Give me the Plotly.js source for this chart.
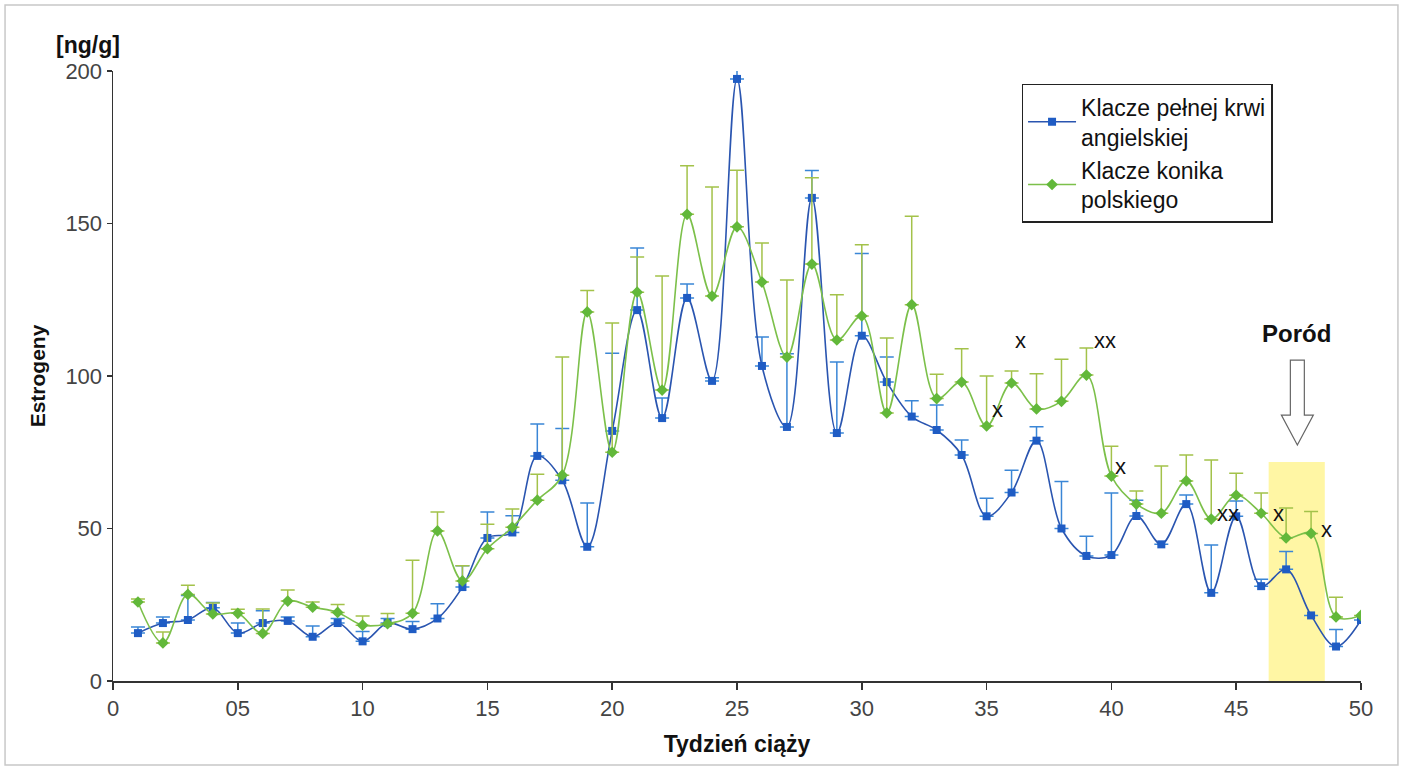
<!DOCTYPE html>
<html>
<head>
<meta charset="utf-8">
<script src="https://cdn.plot.ly/plotly-3.0.1.min.js"></script>
<style>
  html, body { margin: 0; padding: 0; background: #fff; }
  #chart { width: 1406px; height: 770px; }
</style>
</head>
<body>
<div id="chart"></div>
<script>
const weeks = Array.from({length: 50}, (_, i) => i + 1);

const seriesNames = ['Klacze pełnej krwi<br>angielskiej', 'Klacze konika<br>polskiego'];

const blueValues = [15.7, 19, 20, 24, 15.7, 19, 19.7, 14.5, 19, 13, 19, 17, 20.5, 30.8, 46.9, 48.7, 73.8, 65.8, 44, 82,
  121.6, 86.2, 125.6, 98.4, 197.4, 103.3, 83.3, 158.4, 81.3, 113.2, 98, 86.7, 82.3, 74.1, 54, 61.8, 78.8, 50, 41, 41.3,
  54.1, 44.8, 58, 28.9, 54, 31.1, 36.6, 21.5, 11.3, 20];
const blueErr = [2, 2, 8, 1.7, 3.3, 4, 1.3, 3.5, 1.5, 3.2, 1.5, 2.5, 4.8, 7, 8.5, 5.5, 10.5, 17, 14.4, 25.5,
  20.4, 6.6, 4.6, 1, 4.6, 9.5, 24, 9, 23.3, 27, 8.2, 5.2, 8.2, 4.9, 5.9, 7.3, 4.6, 15.4, 6.5, 20.3,
  5.2, 0, 3, 15.7, 5, 2.3, 5.9, 0, 5.6, 0];

const greenValues = [25.9, 12.5, 28.4, 22, 22.2, 15.6, 26.2, 24.2, 22.5, 18.3, 18.8, 22.2, 49.2, 32.8, 43.4, 50.4, 59.3, 67.5, 121, 75,
  127.5, 95.4, 153, 126.2, 148.9, 130.8, 106.2, 136.7, 111.8, 119.7, 87.9, 123.4, 92.6, 98, 83.6, 97.7, 89.2, 91.7, 100.3, 67.2,
  58, 55, 65.6, 53.1, 60.9, 55, 46.9, 48.4, 21, 21.5];
const greenErr = [1, 3.6, 3, 3.6, 1.3, 8, 3.6, 1.7, 2.6, 3, 3.3, 17.4, 6.2, 5, 8, 6, 8.5, 38.7, 7, 42.4,
  11.5, 37.4, 15.9, 35.8, 18.6, 12.8, 25.3, 28.3, 14.8, 23.3, 24.6, 29, 8, 10.9, 16.4, 3.9, 11.5, 13.8, 8.9, 9.8,
  4.3, 15.5, 8.5, 19.4, 7.2, 6.6, 9.8, 7.2, 6.5, 0];

const xTickVals = [0, 5, 10, 15, 20, 25, 30, 35, 40, 45, 50];
const xTickText = ['0', '05', '10', '15', '20', '25', '30', '35', '40', '45', '50'];
const yTickVals = [0, 50, 100, 150, 200];

const zeros = weeks.map(() => 0);
const FAM = 'Liberation Sans, Arial, sans-serif';

const traces = [
  {
    x: weeks, y: blueValues, name: seriesNames[0], type: 'scatter', mode: 'lines+markers',
    line: {color: '#2a55b0', width: 1.6, shape: 'spline', smoothing: 1},
    marker: {symbol: 'square', size: 8, color: '#1f5cc4'},
    error_y: {type: 'data', symmetric: false, array: blueErr, arrayminus: zeros, color: '#3a86d6', thickness: 1.5, width: 7}
  },
  {
    x: weeks, y: greenValues, name: seriesNames[1], type: 'scatter', mode: 'lines+markers',
    line: {color: '#7cc04a', width: 1.6, shape: 'spline', smoothing: 1},
    marker: {symbol: 'diamond', size: 9, color: '#62b83a'},
    error_y: {type: 'data', symmetric: false, array: greenErr, arrayminus: zeros, color: '#a3c24a', thickness: 1.5, width: 7}
  }
];

const xFont = {family: FAM, size: 22, color: '#111'};

const marks = [
  {x: 35.42, y: 88.9, t: 'x'},
  {x: 36.34, y: 111.5, t: 'x'},
  {x: 39.74, y: 111.5, t: 'xx'},
  {x: 40.38, y: 70.2, t: 'x'},
  {x: 44.67, y: 54.8, t: 'xx'},
  {x: 46.71, y: 54.8, t: 'x'},
  {x: 48.6, y: 49.8, t: 'x'}
];

const annotations = marks.map(m => ({
  x: m.x, y: m.y, xref: 'x', yref: 'y', text: m.t, showarrow: false, font: xFont
}));
annotations.push({
  x: 47.4, y: 114.1, xref: 'x', yref: 'y', text: '<b>Poród</b>', showarrow: false,
  font: {family: FAM, size: 24, color: '#111'}
});
annotations.push({
  x: -0.02, y: 1.043, xref: 'paper', yref: 'paper', text: '<b>[ng/g]</b>', showarrow: false,
  xanchor: 'center', yanchor: 'middle',
  font: {family: FAM, size: 23, color: '#111'}
});

// hollow down arrow above the birth period
const ax = 47.45, hw = 0.28, hh = 0.64;
const arrowPath = `M ${ax - hw} 105.2 L ${ax + hw} 105.2 L ${ax + hw} 87.2 L ${ax + hh} 87.2 L ${ax} 77.4 L ${ax - hh} 87.2 L ${ax - hw} 87.2 Z`;

const shapes = [
  {type: 'rect', xref: 'x', yref: 'y', x0: 46.3, x1: 48.55, y0: 0, y1: 71.8,
   fillcolor: '#fff59a', line: {width: 0}, layer: 'below', opacity: 0.9},
  {type: 'path', xref: 'x', yref: 'y', path: arrowPath, fillcolor: '#ffffff',
   line: {color: '#666', width: 1.2}},
  {type: 'rect', xref: 'paper', yref: 'paper', x0: -0.0865, x1: 1.0296, y0: -0.1377, y1: 1.108,
   line: {color: '#c8c8c8', width: 1.5}, fillcolor: 'rgba(0,0,0,0)'}
];

const layout = {
  width: 1406, height: 770,
  margin: {l: 113, r: 45, t: 71, b: 89},
  paper_bgcolor: '#ffffff', plot_bgcolor: '#ffffff',
  font: {family: FAM, size: 22, color: '#444'},
  showlegend: true,
  legend: {
    x: 0.728, y: 0.979, xanchor: 'left', yanchor: 'top',
    bgcolor: '#ffffff', bordercolor: '#222', borderwidth: 1.5,
    font: {family: FAM, size: 23, color: '#111'},
    tracegroupgap: 0, itemwidth: 48
  },
  xaxis: {
    range: [0, 50], tickvals: xTickVals, ticktext: xTickText,
    ticks: 'outside', ticklen: 7, tickcolor: '#333', tickwidth: 1.5,
    showline: true, linecolor: '#333', linewidth: 1.5, showgrid: false, zeroline: false,
    tickfont: {size: 22, color: '#444'},
    title: {text: '<b>Tydzień ciąży</b>', font: {size: 23, color: '#111'}, standoff: 16}
  },
  yaxis: {
    range: [0, 200], tickvals: yTickVals,
    ticks: 'outside', ticklen: 5, tickcolor: '#333', tickwidth: 1.5,
    showline: true, linecolor: '#333', linewidth: 1.5, showgrid: false, zeroline: false,
    tickfont: {size: 22, color: '#444'},
    title: {text: '<b>Estrogeny</b>', font: {size: 21, color: '#111'}, standoff: 14}
  },
  annotations: annotations,
  shapes: shapes
};

Plotly.newPlot('chart', traces, layout, {displayModeBar: false, staticPlot: true});
</script>
</body>
</html>
